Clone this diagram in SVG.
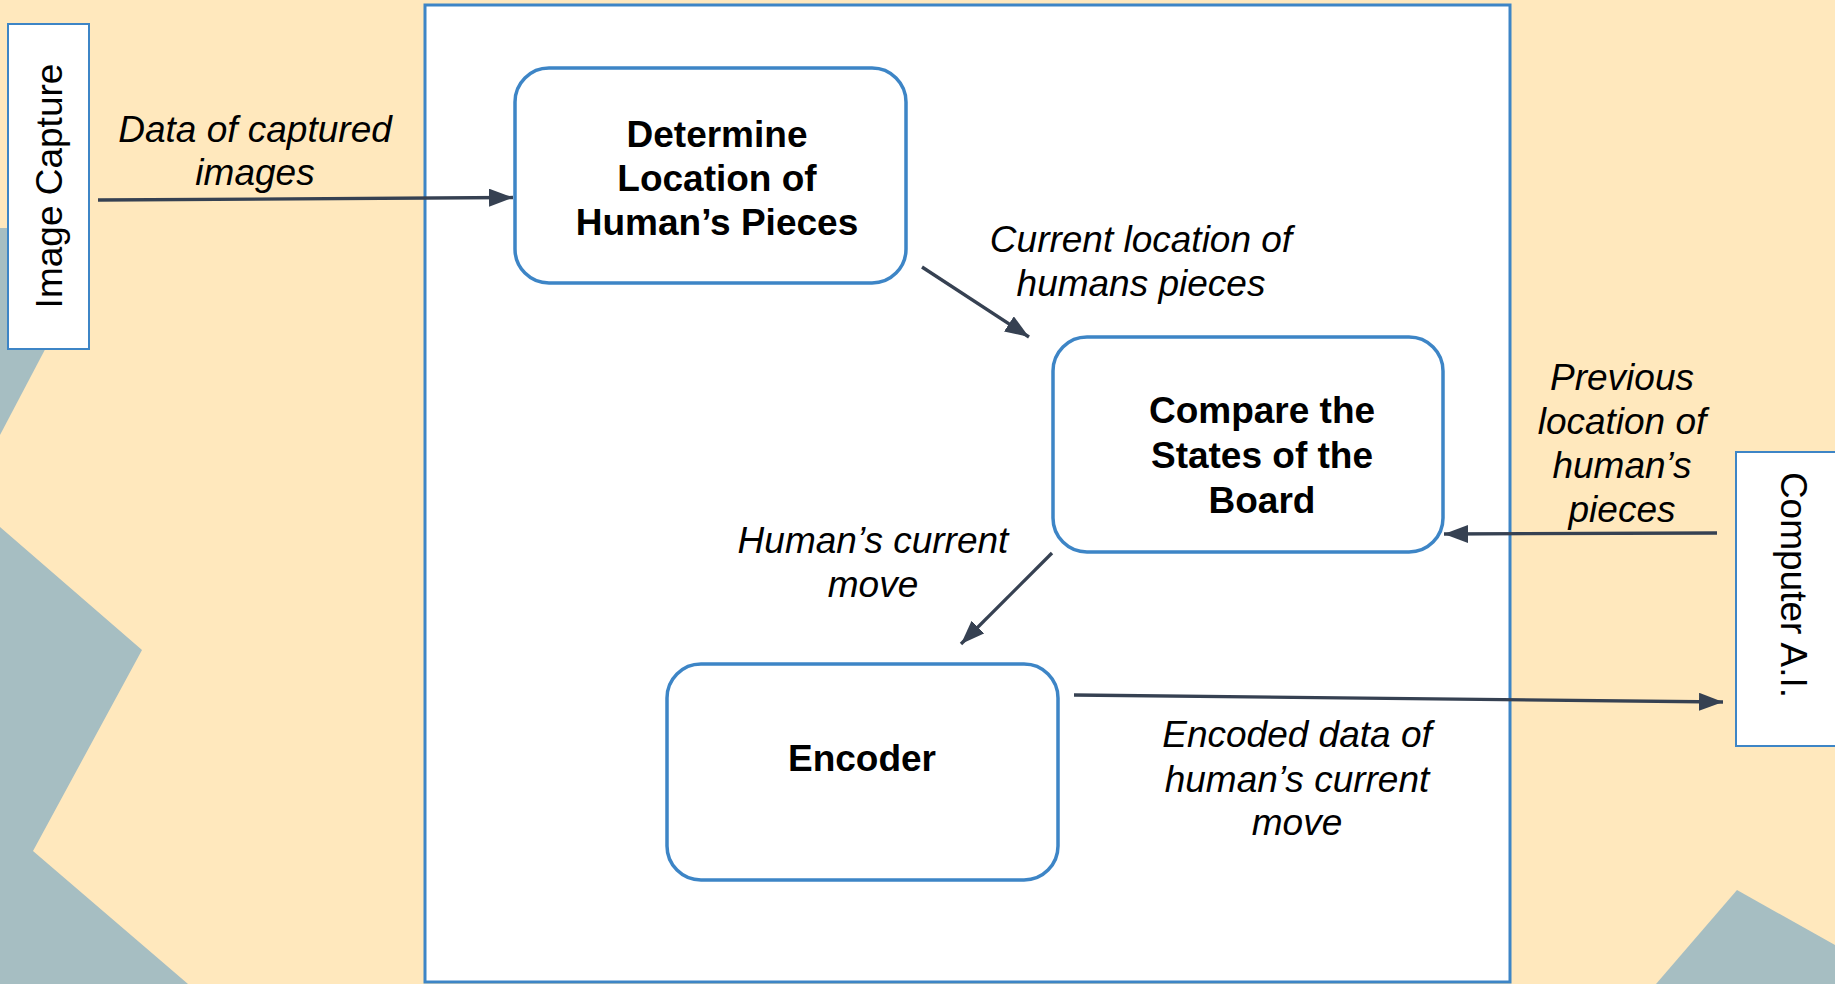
<svg xmlns="http://www.w3.org/2000/svg" width="1835" height="984" viewBox="0 0 1835 984">
<defs>
<style>
.bg{fill:#FFE8BD}
.deco{fill:#A6BEC2}
.frame{fill:#FFFFFF;stroke:#3D85C6;stroke-width:3}
.ext{fill:#FFFFFF;stroke:#3D85C6;stroke-width:2}
.node{fill:#FFFFFF;stroke:#3D85C6;stroke-width:3.5}
.conn{stroke:#364152;stroke-width:3.3;fill:none;marker-end:url(#arr)}
.t{font-family:"Liberation Sans",Arial,sans-serif;font-size:37px;fill:#000;text-anchor:middle}
.b{font-weight:bold}
.i{font-style:italic}
</style>
<marker id="arr" markerUnits="userSpaceOnUse" markerWidth="26" markerHeight="20" refX="24" refY="9" orient="auto">
<path d="M0,0 L24,9 L0,18 z" fill="#364152"/>
</marker>
</defs>
<rect class="bg" x="0" y="0" width="1835" height="984"/>
<polygon class="deco" points="0,228 20,228 50,340 0,435"/>
<polygon class="deco" points="0,527 142,650 33,851 188,984 0,984"/>
<polygon class="deco" points="1656,984 1737,890 1835,945 1835,984"/>
<rect class="frame" x="425" y="5" width="1085" height="977"/>

<g id="image-capture">
<rect class="ext" x="8" y="24" width="81" height="325"/>
<text class="t" transform="translate(62,186) rotate(-90)">Image Capture</text>
</g>
<g id="computer-ai">
<rect class="ext" x="1736" y="452" width="110" height="294"/>
<text class="t" transform="translate(1781,585) rotate(90)">Computer A.I.</text>
</g>
<g id="determine">
<rect class="node" x="515" y="68" width="391" height="215" rx="34" ry="34"/>
<text class="t b" x="717" y="147">Determine</text>
<text class="t b" x="717" y="191">Location of</text>
<text class="t b" x="717" y="235">Human’s Pieces</text>
</g>
<g id="compare">
<rect class="node" x="1053" y="337" width="390" height="215" rx="34" ry="34"/>
<text class="t b" x="1262" y="423">Compare the</text>
<text class="t b" x="1262" y="468">States of the</text>
<text class="t b" x="1262" y="513">Board</text>
</g>
<g id="encoder">
<rect class="node" x="667" y="664" width="391" height="216" rx="34" ry="34"/>
<text class="t b" x="862" y="771">Encoder</text>
</g>

<g id="connectors">
<line class="conn" x1="98" y1="200" x2="513" y2="197.5"/>
<line class="conn" x1="922" y1="267" x2="1029" y2="337"/>
<line class="conn" x1="1052" y1="553" x2="961" y2="644"/>
<line class="conn" x1="1717" y1="533" x2="1444" y2="534"/>
<line class="conn" x1="1074" y1="695" x2="1723" y2="702"/>
</g>

<g id="labels">
<text class="t i" x="255" y="142">Data of captured</text>
<text class="t i" x="255" y="185">images</text>
<text class="t i" x="1141" y="252">Current location of</text>
<text class="t i" x="1141" y="296">humans pieces</text>
<text class="t i" x="1622" y="390">Previous</text>
<text class="t i" x="1622" y="434">location of</text>
<text class="t i" x="1622" y="478">human’s</text>
<text class="t i" x="1622" y="522">pieces</text>
<text class="t i" x="873" y="553">Human’s current</text>
<text class="t i" x="873" y="597">move</text>
<text class="t i" x="1297" y="747">Encoded data of</text>
<text class="t i" x="1297" y="792">human’s current</text>
<text class="t i" x="1297" y="835">move</text>
</g>
</svg>
